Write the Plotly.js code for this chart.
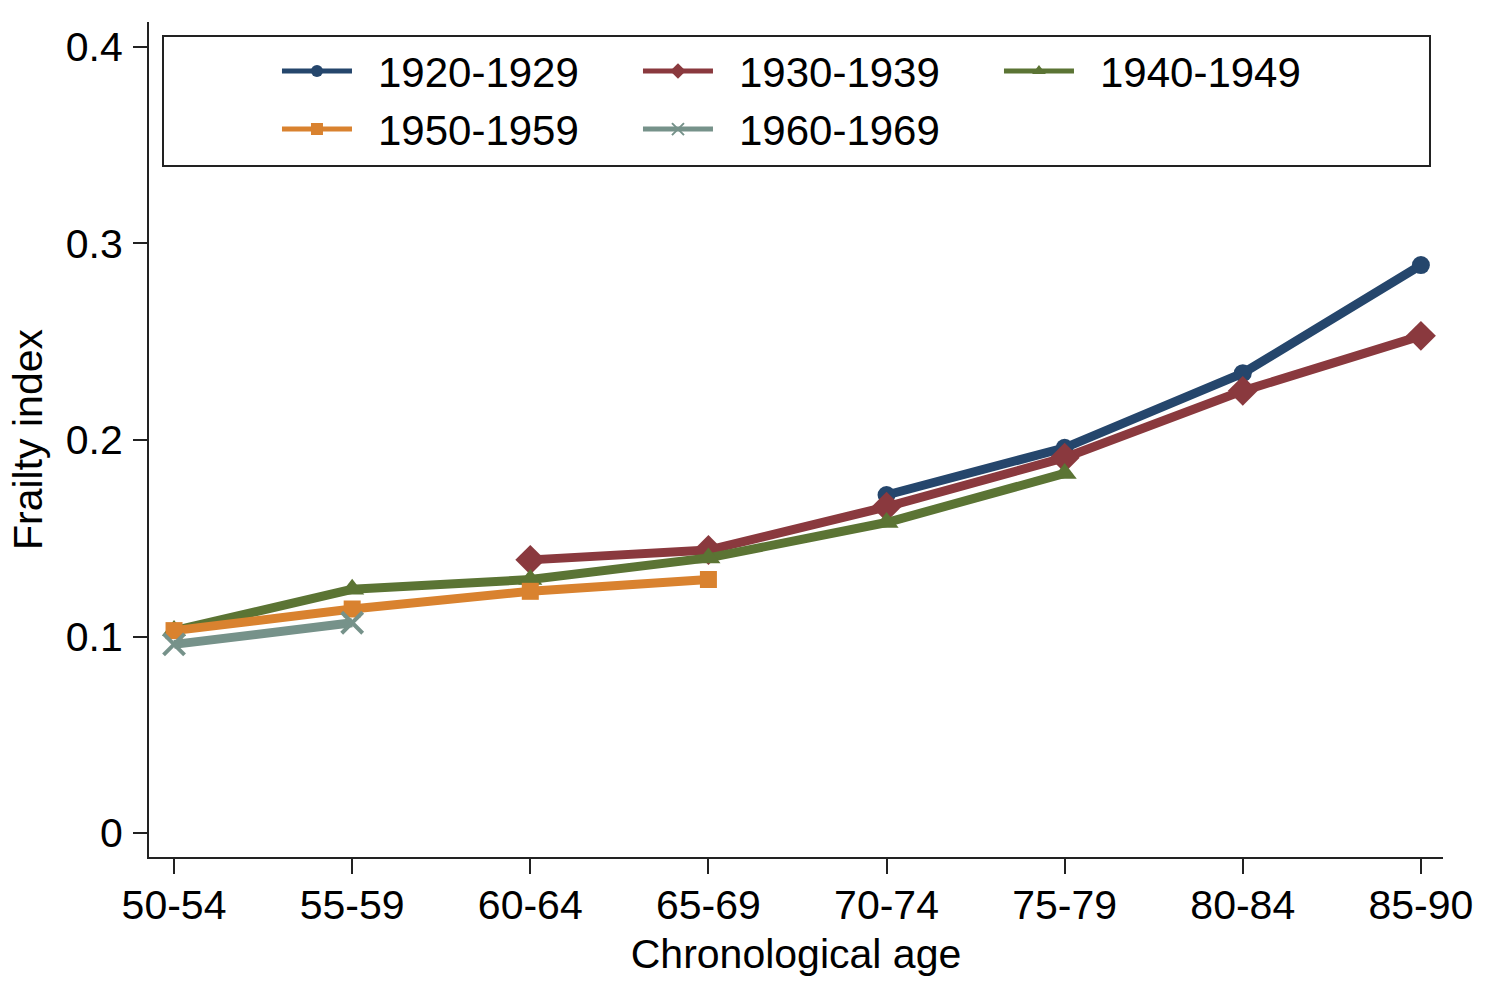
<!DOCTYPE html>
<html>
<head>
<meta charset="utf-8">
<script src="https://cdn.plot.ly/plotly-3.0.1.min.js"></script>
<style>html,body{margin:0;padding:0;background:#fff;}#chart{width:1492px;height:988px;}</style>
</head>
<body>
<div id="chart"></div>
<script>
const ageGroups = ["50-54","55-59","60-64","65-69","70-74","75-79","80-84","85-90"];

const ages1920 = ["70-74","75-79","80-84","85-90"];
const frailty1920 = [0.172, 0.196, 0.234, 0.289];

const ages1930 = ["60-64","65-69","70-74","75-79","80-84","85-90"];
const frailty1930 = [0.139, 0.144, 0.166, 0.191, 0.225, 0.253];

const ages1940 = ["50-54","55-59","60-64","65-69","70-74","75-79"];
const frailty1940 = [0.103, 0.124, 0.129, 0.140, 0.158, 0.183];

const ages1950 = ["50-54","55-59","60-64","65-69"];
const frailty1950 = [0.103, 0.114, 0.123, 0.129];

const ages1960 = ["50-54","55-59"];
const frailty1960 = [0.096, 0.107];

const seriesNames = ["1920-1929","1930-1939","1940-1949","1950-1959","1960-1969"];

const yTicks = [0, 0.1, 0.2, 0.3, 0.4];
const yTickLabels = ["0", "0.1", "0.2", "0.3", "0.4"];

const FONT = "Liberation Sans, Arial, sans-serif";

function tr(name, x, y, color, symbol, size, legend) {
  return {
    type: "scatter", mode: "lines+markers", name: "\u2002" + name, x: x, y: y,
    line: {color: color, width: 9},
    marker: {color: color, symbol: symbol, size: size, line: {width: 0}},
    legend: legend
  };
}

const data = [
  tr(seriesNames[0], ages1920, frailty1920, "#25466c", "circle", 18, "legend"),
  tr(seriesNames[1], ages1930, frailty1930, "#8a393e", "diamond", 23, "legend"),
  tr(seriesNames[2], ages1940, frailty1940, "#5b7434", "triangle-up", 21, "legend"),
  tr(seriesNames[3], ages1950, frailty1950, "#d9822f", "square", 17, "legend2"),
  tr(seriesNames[4], ages1960, frailty1960, "#76928a", "x-thin-open", 21, "legend2")
];
data[4].marker.line = {color: "#76928a", width: 4};

const legendCommon = {
  orientation: "h", xanchor: "left", yanchor: "middle",
  font: {family: FONT, size: 42, color: "#000"},
  bgcolor: "rgba(0,0,0,0)", borderwidth: 0,
  itemwidth: 70, itemsizing: "constant",
  entrywidth: 276, entrywidthmode: "pixels",
  traceorder: "normal", itemclick: false, itemdoubleclick: false
};

const layout = {
  width: 1492, height: 988,
  margin: {l: 149, r: 49, t: 22, b: 131},
  paper_bgcolor: "#fff", plot_bgcolor: "#fff",
  font: {family: FONT, size: 41, color: "#000"},
  xaxis: {
    type: "category", categoryorder: "array", categoryarray: ageGroups,
    range: [-0.1406, 7.124],
    showline: true, linecolor: "#222", linewidth: 2, mirror: false,
    showgrid: false, zeroline: false,
    ticks: "outside", ticklen: 15, tickwidth: 2, tickcolor: "#222",
    tickfont: {family: FONT, size: 41, color: "#000"},
    ticklabelstandoff: -4,
    title: {text: "Chronological age", font: {family: FONT, size: 41, color: "#000"}, standoff: 12}
  },
  yaxis: {
    range: [-0.0122, 0.4127],
    tickvals: yTicks, ticktext: yTickLabels,
    showline: true, linecolor: "#222", linewidth: 2,
    showgrid: false, zeroline: false,
    ticks: "outside", ticklen: 14, tickwidth: 2, tickcolor: "#222",
    tickfont: {family: FONT, size: 41, color: "#000"},
    ticklabelstandoff: 2,
    title: {text: "Frailty index", font: {family: FONT, size: 41, color: "#000"}, standoff: 10}
  },
  legend: Object.assign({}, legendCommon, {x: 0.0989, y: 0.941}),
  legend2: Object.assign({}, legendCommon, {x: 0.0989, y: 0.8715}),
  shapes: [{
    type: "rect", xref: "paper", yref: "paper",
    x0: 0.01082, x1: 0.98995, y0: 0.8275, y1: 0.9832,
    line: {color: "#222", width: 2}, fillcolor: "rgba(255,255,255,0)", layer: "below"
  }],
  showlegend: true
};

Plotly.newPlot("chart", data, layout, {displayModeBar: false, staticPlot: true});
</script>
</body>
</html>
